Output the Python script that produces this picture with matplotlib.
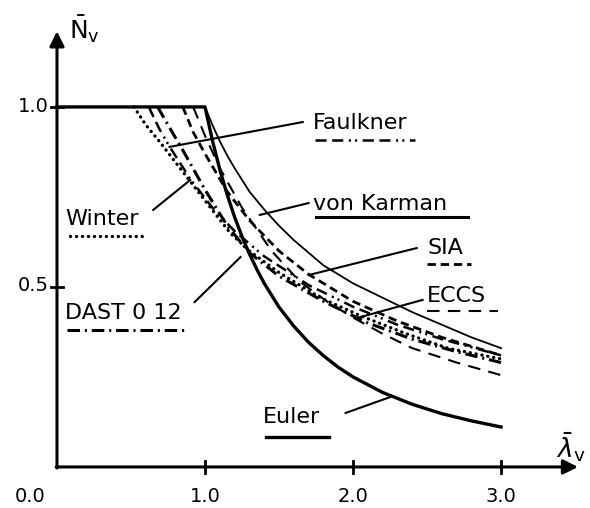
import matplotlib.pyplot as plt

plt.rcParams['lines.scale_dashes'] = False
plt.rcParams['font.family'] = 'DejaVu Sans'

# --- Data ---
euler_lam = [0.0, 1.0, 1.05, 1.1, 1.15, 1.2, 1.25, 1.3, 1.35, 1.4, 1.5, 1.6, 1.7, 1.8, 1.9, 2.0,
             2.2, 2.4, 2.6, 2.8, 3.0]
euler_n = [1.0, 1.0, 0.907, 0.826, 0.756, 0.694, 0.640, 0.592, 0.549, 0.510, 0.444, 0.391,
           0.346, 0.309, 0.277, 0.25, 0.207, 0.174, 0.148, 0.128, 0.111]

karman_lam = [1.0, 1.05, 1.1, 1.15, 1.2, 1.3, 1.4, 1.5, 1.6, 1.8, 2.0, 2.2, 2.4, 2.6, 2.8, 3.0]
karman_n = [1.0, 0.95, 0.905, 0.865, 0.83, 0.765, 0.715, 0.67, 0.63, 0.56, 0.51, 0.47,
            0.43, 0.395, 0.36, 0.33]

winter_lam = [0.52, 0.6, 0.7, 0.85, 1.0, 1.17, 1.3, 1.5, 1.78, 2.05, 2.36, 2.64, 3.0]
winter_n = [1.0, 0.95, 0.90, 0.82, 0.74, 0.65, 0.60, 0.54, 0.47, 0.42, 0.37, 0.33, 0.30]

dast_lam = [0.68, 0.75, 0.85, 1.0, 1.15, 1.3, 1.5, 1.8, 2.1, 2.4, 2.7, 3.0]
dast_n = [1.0, 0.95, 0.88, 0.77, 0.67, 0.595, 0.53, 0.46, 0.40, 0.355, 0.32, 0.29]

faulkner_lam = [0.62, 0.69, 0.76, 0.9, 1.05, 1.2, 1.4, 1.7, 2.0, 2.3, 2.6, 3.0]
faulkner_n = [1.0, 0.94, 0.89, 0.80, 0.72, 0.655, 0.585, 0.505, 0.445, 0.395, 0.355, 0.31]

sia_lam = [0.85, 0.92, 1.0, 1.15, 1.3, 1.5, 1.7, 2.0, 2.3, 2.6, 3.0]
sia_n = [1.0, 0.93, 0.87, 0.765, 0.685, 0.60, 0.535, 0.46, 0.405, 0.36, 0.31]

eccs_lam = [0.92, 1.0, 1.1, 1.25, 1.45, 1.64, 1.84, 2.0, 2.2, 2.4, 2.7, 3.0]
eccs_n = [1.0, 0.92, 0.83, 0.72, 0.60, 0.515, 0.455, 0.415, 0.37, 0.33, 0.29, 0.255]

x_ticks = [1.0, 2.0, 3.0]
y_ticks = [0.5, 1.0]

# line styles (dashes in points)
styles = {
    'Euler': dict(color='k', lw=2.4, ls='-'),
    'von Karman': dict(color='k', lw=1.3, ls='-'),
    'Winter': dict(color='k', lw=2.4, ls=(0, (0.1, 4.2)), dash_capstyle='round'),
    'DAST 0 12': dict(color='k', lw=2.2, ls=(0, (9, 3.5, 1.5, 3.5))),
    'Faulkner': dict(color='k', lw=1.8, ls=(0, (8, 4, 8, 4, 1.5, 3, 1.5, 4))),
    'SIA': dict(color='k', lw=2.0, ls=(0, (6, 3.5))),
    'ECCS': dict(color='k', lw=1.5, ls=(0, (9, 6))),
}

fig = plt.figure(figsize=(5.9, 5.08), dpi=100)
ax = fig.add_axes([0, 0, 1, 1])
ax.set_xlim(-0.385, 3.601)
ax.set_ylim(-0.114, 1.297)
ax.axis('off')

ax.plot(euler_lam, euler_n, **styles['Euler'])
ax.plot(karman_lam, karman_n, **styles['von Karman'])
ax.plot(winter_lam, winter_n, **styles['Winter'])
ax.plot(dast_lam, dast_n, **styles['DAST 0 12'])
ax.plot(faulkner_lam, faulkner_n, **styles['Faulkner'])
ax.plot(sia_lam, sia_n, **styles['SIA'])
ax.plot(eccs_lam, eccs_n, **styles['ECCS'])

# axes with arrows
arrow = dict(arrowstyle='-|>', lw=2.2, color='k', mutation_scale=22, shrinkA=0, shrinkB=0)
ax.annotate('', xy=(0, 1.21), xytext=(0, -0.003), arrowprops=arrow)
ax.annotate('', xy=(3.52, 0), xytext=(-0.006, 0), arrowprops=arrow)

for t in x_ticks:
    ax.plot([t, t], [-0.017, 0.017], color='k', lw=2)
    ax.text(t, -0.083, f'{t:.1f}', ha='center', va='center', fontsize=14)
for t in y_ticks:
    ax.plot([-0.04, 0.04], [t, t], color='k', lw=2)
ax.text(-0.055, 1.0, '1.0', ha='right', va='center', fontsize=14)
ax.text(-0.055, 0.503, '0.5', ha='right', va='center', fontsize=14)
ax.text(-0.18, -0.083, '0.0', ha='center', va='center', fontsize=14)

ax.text(0.08, 1.215, r'$\bar{\mathrm{N}}_{\mathrm{v}}$', ha='left', va='center', fontsize=18)
ax.text(3.37, 0.055, r'$\bar{\lambda}_{\mathrm{v}}$', ha='left', va='center', fontsize=19)

# labels: (text pos), (underline x range, y), (leader start, leader end)
labels = [
    ('Faulkner', (1.73, 0.955), (1.74, 2.42, 0.908), (1.66, 0.958), (0.76, 0.889)),
    ('von Karman', (1.73, 0.73), (1.75, 2.78, 0.694), (1.70, 0.733), (1.37, 0.70)),
    ('SIA', (2.50, 0.608), (2.50, 2.80, 0.564), (2.43, 0.608), (1.70, 0.533)),
    ('ECCS', (2.50, 0.475), (2.50, 2.98, 0.433), (2.47, 0.464), (2.03, 0.414)),
    ('Winter', (0.054, 0.689), (0.09, 0.61, 0.642), (0.65, 0.714), (0.90, 0.797)),
    ('DAST 0 12', (0.054, 0.428), (0.07, 0.885, 0.381), (0.93, 0.458), (1.24, 0.583)),
    ('Euler', (1.39, 0.139), (1.41, 1.84, 0.083), (1.95, 0.15), (2.25, 0.194)),
]
for name, tpos, ul, l0, l1 in labels:
    ax.text(tpos[0], tpos[1], name, ha='left', va='center', fontsize=16)
    st = dict(styles[name])
    if name == 'von Karman':
        st['lw'] = 2.2
    ax.plot([ul[0], ul[1]], [ul[2], ul[2]], **st)
    ax.plot([l0[0], l1[0]], [l0[1], l1[1]], color='k', lw=1.5)

fig.savefig('out.png', dpi=100)
